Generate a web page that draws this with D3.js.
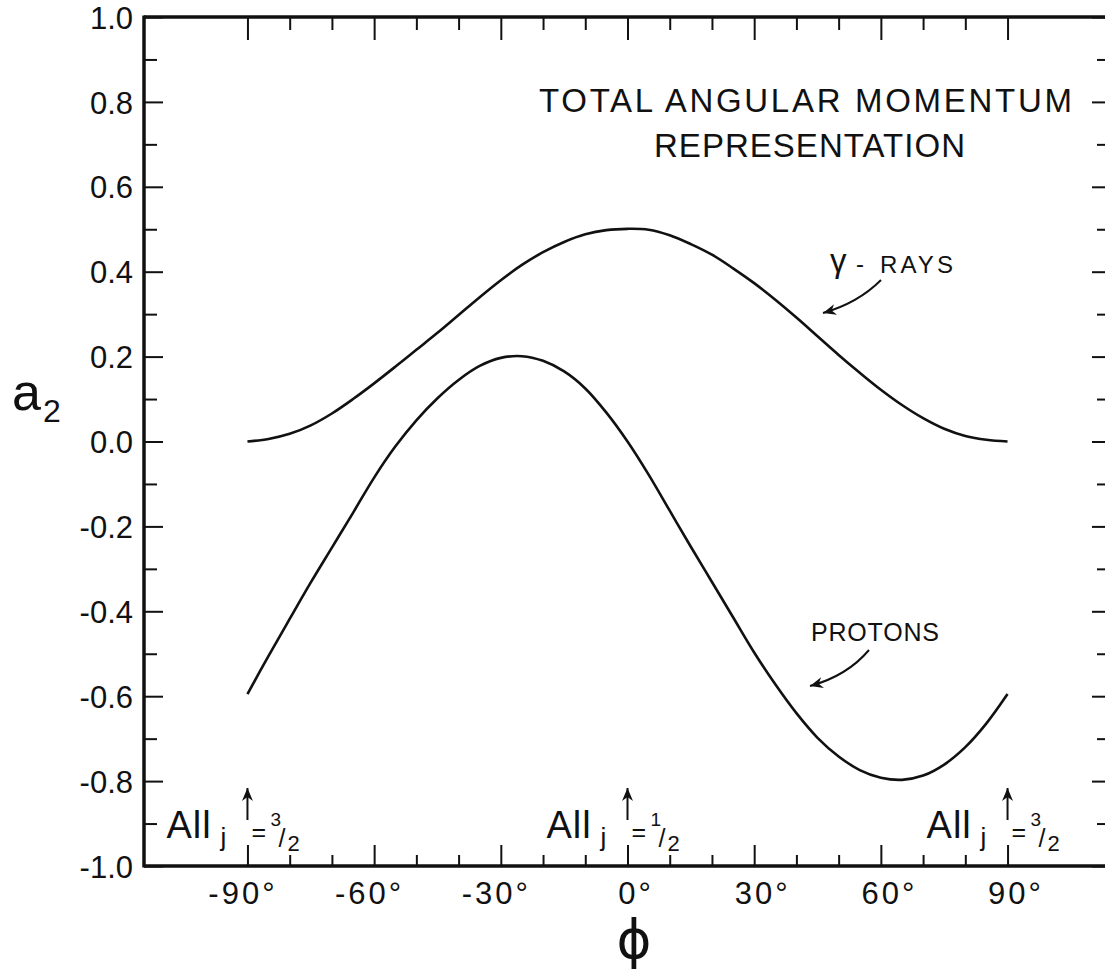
<!DOCTYPE html>
<html>
<head>
<meta charset="utf-8">
<script src="https://cdn.jsdelivr.net/npm/d3@7"></script>
<style>
  body { margin: 0; background: #fff; }
  svg { display: block; }
  text { font-family: "Liberation Sans", Arial, sans-serif; fill: #111; }
</style>
</head>
<body>
<svg id="chart" width="1105" height="972"></svg>
<script>
// angle phi (degrees) and a2
var phi = [-90, -85, -80, -75, -70, -65, -60, -55, -50, -45, -40, -35, -30, -25, -20, -15, -10, -5,
           0, 5, 10, 15, 20, 25, 30, 35, 40, 45, 50, 55, 60, 65, 70, 75, 80, 85, 90];
var gammaRays = [0.0, 0.006, 0.018, 0.038, 0.066, 0.100, 0.137, 0.176, 0.216, 0.256, 0.298, 0.340,
                 0.380, 0.416, 0.446, 0.470, 0.488, 0.498, 0.501, 0.499, 0.486, 0.465, 0.440, 0.408,
                 0.373, 0.334, 0.292, 0.248, 0.204, 0.162, 0.122, 0.086, 0.055, 0.030, 0.013, 0.004, 0.0];
var protons = [-0.595, -0.505, -0.418, -0.332, -0.250, -0.168, -0.085, -0.012, 0.050, 0.102, 0.145,
               0.178, 0.197, 0.201, 0.190, 0.165, 0.125, 0.068, 0.000, -0.078, -0.163, -0.248, -0.331,
               -0.414, -0.497, -0.572, -0.640, -0.698, -0.742, -0.774, -0.792, -0.797, -0.787, -0.761,
               -0.720, -0.664, -0.595];

var xMajor = [-90, -60, -30, 0, 30, 60, 90];
var xMinor = [-80, -70, -50, -40, -20, -10, 10, 20, 40, 50, 70, 80];
var yMajor = [-1.0, -0.8, -0.6, -0.4, -0.2, 0.0, 0.2, 0.4, 0.6, 0.8, 1.0];
var yMinor = [-0.9, -0.7, -0.5, -0.3, -0.1, 0.1, 0.3, 0.5, 0.7, 0.9];

// "All j = n/2" marks on the axis
var jPhi = [-90, 0, 90];
var jNum = ["3", "1", "3"];

var ink = "#111";
var svg = d3.select("#chart");

var x = d3.scaleLinear().domain([-114.5, 114.5]).range([144, 1111]);
var y = d3.scaleLinear().domain([-1, 1]).range([866, 17]);

var defs = svg.append("defs");
defs.append("marker")
    .attr("id", "head")
    .attr("viewBox", "-14 -7 16 14")
    .attr("refX", 0)
    .attr("refY", 0)
    .attr("markerWidth", 16)
    .attr("markerHeight", 14)
    .attr("markerUnits", "userSpaceOnUse")
    .attr("orient", "auto")
    .append("path")
        .attr("d", "M0,0L-13,-5.5L-9,0L-13,5.5Z")
        .attr("fill", ink);

function cleanAxis(g) {
    g.select(".domain").remove();
    g.attr("font-family", null).attr("font-size", null);
    g.selectAll(".tick line").attr("stroke", ink).attr("stroke-width", 2);
}

// left axis, labels and ticks
svg.append("g")
    .attr("transform", "translate(144,0)")
    .call(d3.axisLeft(y).tickValues(yMajor).tickSize(-19).tickPadding(11)
        .tickFormat(function(d) { return d.toFixed(1); }))
    .call(cleanAxis)
    .selectAll("text").attr("font-size", 31).attr("dy", "0.36em");
svg.append("g")
    .attr("transform", "translate(144,0)")
    .call(d3.axisLeft(y).tickValues(yMinor).tickSize(-13).tickFormat(""))
    .call(cleanAxis);

// right axis (only ticks are inside the picture)
svg.append("g")
    .attr("transform", "translate(1111,0)")
    .call(d3.axisRight(y).tickValues(yMajor).tickSize(-19).tickFormat(""))
    .call(cleanAxis);
svg.append("g")
    .attr("transform", "translate(1111,0)")
    .call(d3.axisRight(y).tickValues(yMinor).tickSize(-14).tickFormat(""))
    .call(cleanAxis);

// bottom axis
svg.append("g")
    .attr("transform", "translate(0,866)")
    .call(d3.axisBottom(x).tickValues(xMajor).tickSize(-21).tickPadding(16)
        .tickFormat(function(d) { return d + "\u00b0"; }))
    .call(cleanAxis)
    .selectAll("text")
        .attr("font-size", 31)
        .attr("letter-spacing", 3)
        .attr("dx", function(d) { return d < 0 ? -5 : 8; });
svg.append("g")
    .attr("transform", "translate(0,866)")
    .call(d3.axisBottom(x).tickValues(xMinor).tickSize(-11).tickFormat(""))
    .call(cleanAxis);

// top axis
svg.append("g")
    .attr("transform", "translate(0,17)")
    .call(d3.axisTop(x).tickValues(xMajor).tickSize(-23).tickFormat(""))
    .call(cleanAxis);
svg.append("g")
    .attr("transform", "translate(0,17)")
    .call(d3.axisTop(x).tickValues(xMinor).tickSize(-13).tickFormat(""))
    .call(cleanAxis);

// frame: left, top, bottom
var frame = svg.append("g").attr("stroke", ink).attr("stroke-width", 3.5).attr("fill", "none");
frame.append("line").attr("x1", x(-114.5)).attr("x2", x(-114.5)).attr("y1", y(1) - 1.5).attr("y2", y(-1) + 1.5);
frame.append("line").attr("x1", x(-114.5)).attr("x2", x(114.5)).attr("y1", y(1)).attr("y2", y(1));
frame.append("line").attr("x1", x(-114.5)).attr("x2", x(114.5)).attr("y1", y(-1)).attr("y2", y(-1));

// curves
var line = d3.line()
    .x(function(d) { return x(d[0]); })
    .y(function(d) { return y(d[1]); })
    .curve(d3.curveCatmullRom.alpha(0.5));

svg.append("path")
    .datum(d3.zip(phi, gammaRays))
    .attr("d", line)
    .attr("fill", "none")
    .attr("stroke", ink)
    .attr("stroke-width", 2.6);

svg.append("path")
    .datum(d3.zip(phi, protons))
    .attr("d", line)
    .attr("fill", "none")
    .attr("stroke", ink)
    .attr("stroke-width", 2.6);

// title
svg.append("text")
    .attr("x", 539).attr("y", 112)
    .attr("font-size", 33)
    .attr("textLength", 533).attr("lengthAdjust", "spacing")
    .text("TOTAL ANGULAR  MOMENTUM");
svg.append("text")
    .attr("x", 654).attr("y", 157)
    .attr("font-size", 33)
    .attr("textLength", 311).attr("lengthAdjust", "spacing")
    .text("REPRESENTATION");

// curve labels with arrows
svg.append("text").attr("x", 830).attr("y", 272).attr("font-size", 33).text("\u03b3");
svg.append("text").attr("x", 856).attr("y", 272).attr("font-size", 24).text("-");
svg.append("text")
    .attr("x", 880).attr("y", 273)
    .attr("font-size", 24)
    .attr("textLength", 73).attr("lengthAdjust", "spacing")
    .text("RAYS");

svg.append("text")
    .attr("x", 811).attr("y", 641)
    .attr("font-size", 25)
    .attr("textLength", 128).attr("lengthAdjust", "spacing")
    .text("PROTONS");

svg.append("path")
    .attr("d", "M881,280 Q858,303 823,313")
    .attr("fill", "none").attr("stroke", ink).attr("stroke-width", 2)
    .attr("marker-end", "url(#head)");
svg.append("path")
    .attr("d", "M869,650 Q847,676 810,686")
    .attr("fill", "none").attr("stroke", ink).attr("stroke-width", 2)
    .attr("marker-end", "url(#head)");

// "All j = n/2" markers
jPhi.forEach(function(p, i) {
    var ax = x(p);
    var g = svg.append("g");
    g.append("line")
        .attr("x1", ax).attr("x2", ax)
        .attr("y1", 820).attr("y2", 788)
        .attr("stroke", ink).attr("stroke-width", 2)
        .attr("marker-end", "url(#head)");
    g.append("text").attr("x", ax - 81).attr("y", 838).attr("font-size", 38).attr("letter-spacing", 1).text("All");
    g.append("text").attr("x", ax - 27).attr("y", 846).attr("font-size", 26).text("j");
    g.append("text").attr("x", ax + 4).attr("y", 841).attr("font-size", 25).text("=");
    g.append("text").attr("x", ax + 23).attr("y", 826).attr("font-size", 19).text(jNum[i]);
    g.append("text").attr("x", ax + 31).attr("y", 847).attr("font-size", 25).text("/");
    g.append("text").attr("x", ax + 40).attr("y", 851).attr("font-size", 22).text("2");
});

// axis titles
var a2 = svg.append("text").attr("x", 12).attr("y", 410);
a2.append("tspan").attr("font-size", 52).text("a");
a2.append("tspan").attr("font-size", 32).attr("dx", 2).attr("dy", 12).text("2");

svg.append("text")
    .attr("x", 634).attr("y", 958)
    .attr("text-anchor", "middle")
    .attr("font-size", 53)
    .style("font-family", "'DejaVu Sans', sans-serif")
    .text("\u03d5");
</script>
</body>
</html>
